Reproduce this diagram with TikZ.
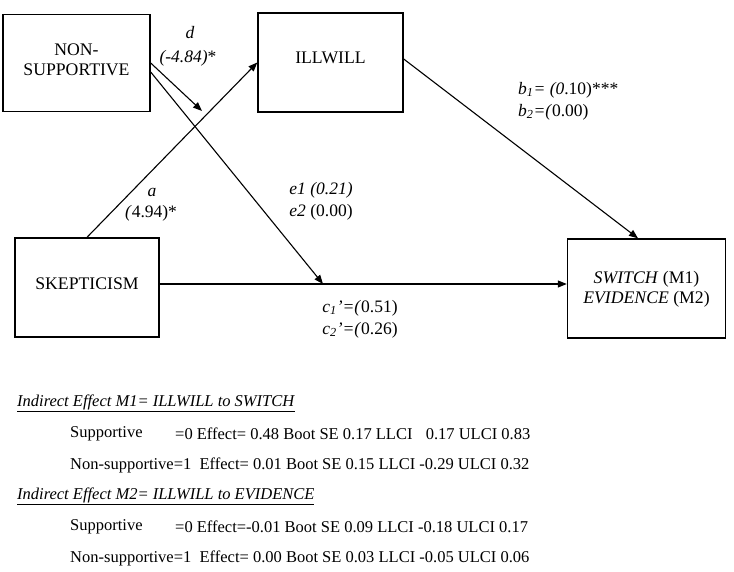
\documentclass[tikz,border=0pt]{standalone}
\usepackage{fontspec}
\setmainfont{Liberation Serif}
\usetikzlibrary{arrows.meta}
\begin{document}
\begin{tikzpicture}[x=1pt,y=-1pt,
  box/.style={draw,line width=1.4pt,inner sep=0pt},
  lbl/.style={inner sep=0pt,font=\fontsize{17.5}{20}\selectfont},
  boxtxt/.style={inner sep=0pt,font=\fontsize{17.7}{20}\selectfont},
  txt/.style={inner sep=0pt,anchor=west,font=\fontsize{16.5}{19}\selectfont},
  conn/.style={line width=1.1pt,-{Triangle[length=9pt,width=7pt]}}]
\useasboundingbox (0,0) rectangle (734,572);
% boxes
\node[box,minimum width=147pt,minimum height=97pt] (ns) at (76.5,63) {};
\node[box,minimum width=145pt,minimum height=99pt] (ill) at (330.5,62.5) {};
\node[box,minimum width=144pt,minimum height=99pt] (skep) at (87,287.5) {};
\node[box,minimum width=158pt,minimum height=99pt] (sw) at (646.5,288.5) {};
% box texts
\node[boxtxt,align=center] (nst) at (76.5,59.5) {NON-\\SUPPORTIVE};
\node[boxtxt] (illt) at (330.5,58) {ILLWILL};
\node[boxtxt] (skept) at (87,283.5) {SKEPTICISM};
\node[boxtxt,align=center] (swt) at (646.5,289) {\textit{SWITCH} (M1)\\\textit{EVIDENCE} (M2)};
% connector coordinates
\coordinate (dend) at (202,111);
\coordinate (eend) at (323,284);
% connectors
\draw[conn] (skep.north) -- (ill.west);
\draw[conn] (ns.east) -- (dend);
\draw[conn] ([yshift=-9pt]ns.east) -- (eend);
\draw[conn] (skep.east |- eend) -- (sw.west |- eend);
\draw[conn] ([yshift=3.5pt]ill.east) -- ([xshift=-8.5pt]sw.north);
% path labels
\node[lbl] (ld) at (190,33) {\textit{d}};
\node[lbl] (ld2) at (188,58) {\textit{(-4.84)}*};
\node[lbl] (la) at (152,192) {\textit{a}};
\node[lbl] (la2) at (151,213) {\textit{(}4.94)*};
\node[lbl] (le1) at (321,190) {\textit{e1 (0.21)}};
\node[lbl] (le2) at (321,212) {\textit{e2} (0.00)};
\node[lbl] (lc1) at (360,308) {\textit{c\textsubscript{1}'=(}0.51)};
\node[lbl] (lc2) at (360,330) {\textit{c\textsubscript{2}'=(}0.26)};
\node[lbl,anchor=west] (lb1) at (518,90) {\textit{b\textsubscript{1}= (0}.10)***};
\node[lbl,anchor=west] (lb2) at (518,112) {\textit{b\textsubscript{2}=(}0.00)};
% bottom text
\node[txt] (h1) at (17,403) {\underline{\textit{Indirect Effect M1= ILLWILL to SWITCH}}};
\node[txt] (r1a) at (70,434) {Supportive};
\node[txt] (r1b) at (175,434) {=0 Effect= 0.48 Boot SE 0.17 LLCI\hspace{0.8em}0.17 ULCI 0.83};
\node[txt] (r2) at (70,465) {Non-supportive=1\hspace{0.5em}Effect= 0.01 Boot SE 0.15 LLCI -0.29 ULCI 0.32};
\node[txt] (h2) at (17,496) {\underline{\textit{Indirect Effect M2= ILLWILL to EVIDENCE}}};
\node[txt] (r3a) at (70,527) {Supportive};
\node[txt] (r3b) at (175,527) {=0 Effect=-0.01 Boot SE 0.09 LLCI -0.18 ULCI 0.17};
\node[txt] (r4) at (70,558) {Non-supportive=1\hspace{0.5em}Effect= 0.00 Boot SE 0.03 LLCI -0.05 ULCI 0.06};
\end{tikzpicture}
\end{document}
